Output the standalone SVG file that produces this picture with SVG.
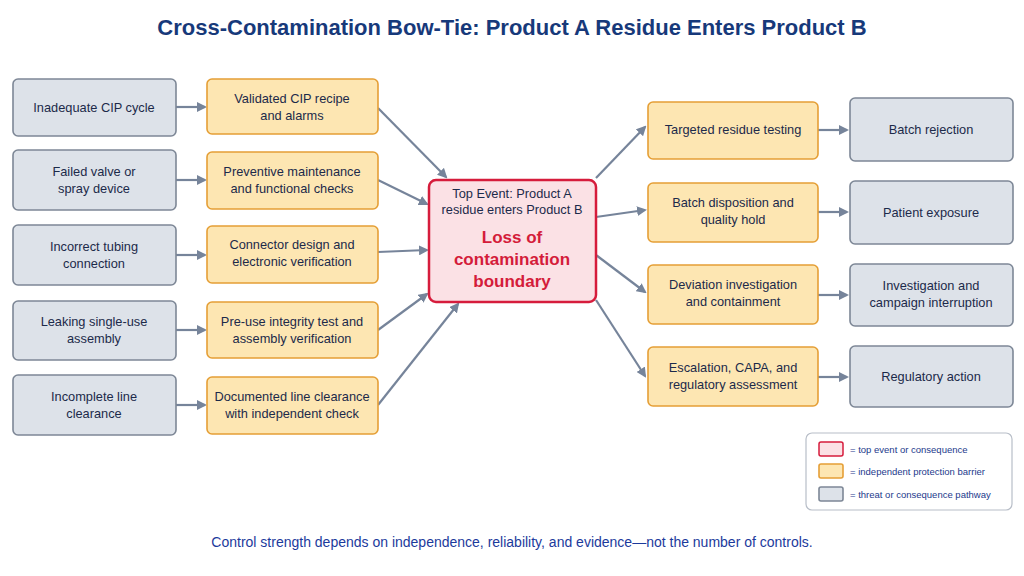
<svg xmlns="http://www.w3.org/2000/svg" width="1024" height="576" viewBox="0 0 1024 576">
<style>
text{font-family:"Liberation Sans",Arial,sans-serif;text-anchor:middle;fill:#1c2a4a}
.g{fill:#dde2e9;stroke:#7d8796;stroke-width:1.6}
.o{fill:#fde6b2;stroke:#e59f36;stroke-width:1.6}
.r{fill:#fbe1e5;stroke:#d61c3c;stroke-width:2.5}
.t{font-size:12.8px}
.c{stroke:#76849a;stroke-width:2.2;fill:none;marker-end:url(#a)}
.lg{font-size:9.5px;text-anchor:start;fill:#1c3a8c}
</style>
<defs><marker id="a" markerWidth="10" markerHeight="10" refX="8" refY="5" orient="auto" markerUnits="userSpaceOnUse"><path d="M0,0L10,5L0,10z" fill="#76849a"/></marker></defs>
<rect width="1024" height="576" fill="#fff"/>
<text x="512" y="35" style="font-size:22px;font-weight:bold;fill:#17397a">Cross-Contamination Bow-Tie: Product A Residue Enters Product B</text>
<g id="connectors">
<path class="c" d="M176,107H205"/><path class="c" d="M176,180H205"/><path class="c" d="M176,255H205"/><path class="c" d="M176,330H205"/><path class="c" d="M176,405H205"/>
<path class="c" d="M378,108L446,177"/><path class="c" d="M378,180L427,204"/><path class="c" d="M378,252L427,250"/><path class="c" d="M378,330L427,294"/><path class="c" d="M378,405L458,304"/>
<path class="c" d="M596,178L645,127"/><path class="c" d="M596,217L645,210"/><path class="c" d="M596,255L645,292"/><path class="c" d="M596,300L645,376"/>
<path class="c" d="M818,130H847"/><path class="c" d="M818,212H847"/><path class="c" d="M818,295H847"/><path class="c" d="M818,377H847"/>
</g>
<g id="t1"><rect class="g" x="13" y="79" width="163" height="57" rx="5"/><text class="t" x="94" y="112">Inadequate CIP cycle</text></g>
<g id="t2"><rect class="g" x="13" y="150" width="163" height="60" rx="5"/><text class="t" x="94" y="176">Failed valve or</text><text class="t" x="94" y="193">spray device</text></g>
<g id="t3"><rect class="g" x="13" y="225" width="163" height="60" rx="5"/><text class="t" x="94" y="251">Incorrect tubing</text><text class="t" x="94" y="268">connection</text></g>
<g id="t4"><rect class="g" x="13" y="301" width="163" height="59" rx="5"/><text class="t" x="94" y="326">Leaking single-use</text><text class="t" x="94" y="343">assembly</text></g>
<g id="t5"><rect class="g" x="13" y="375" width="163" height="60" rx="5"/><text class="t" x="94" y="401">Incomplete line</text><text class="t" x="94" y="418">clearance</text></g>
<g id="b1"><rect class="o" x="207" y="79" width="171" height="55" rx="5"/><text class="t" x="292" y="103">Validated CIP recipe</text><text class="t" x="292" y="120">and alarms</text></g>
<g id="b2"><rect class="o" x="207" y="152" width="171" height="57" rx="5"/><text class="t" x="292" y="176">Preventive maintenance</text><text class="t" x="292" y="193">and functional checks</text></g>
<g id="b3"><rect class="o" x="207" y="226" width="171" height="57" rx="5"/><text class="t" x="292" y="249">Connector design and</text><text class="t" x="292" y="266">electronic verification</text></g>
<g id="b4"><rect class="o" x="207" y="302" width="171" height="56" rx="5"/><text class="t" x="292" y="326">Pre-use integrity test and</text><text class="t" x="292" y="343">assembly verification</text></g>
<g id="b5"><rect class="o" x="207" y="377" width="171" height="57" rx="5"/><text class="t" x="292" y="401">Documented line clearance</text><text class="t" x="292" y="418">with independent check</text></g>
<g id="top"><rect class="r" x="429" y="180" width="167" height="122" rx="7"/><text class="t" x="512" y="198">Top Event: Product A</text><text class="t" x="512" y="214">residue enters Product B</text><text x="512" y="243" style="font-size:17px;font-weight:bold;fill:#d41c3a">Loss of</text><text x="512" y="265" style="font-size:17px;font-weight:bold;fill:#d41c3a">contamination</text><text x="512" y="287" style="font-size:17px;font-weight:bold;fill:#d41c3a">boundary</text></g>
<g id="rb1"><rect class="o" x="648" y="102" width="170" height="57" rx="5"/><text class="t" x="733" y="134">Targeted residue testing</text></g>
<g id="rb2"><rect class="o" x="648" y="183" width="170" height="59" rx="5"/><text class="t" x="733" y="207">Batch disposition and</text><text class="t" x="733" y="224">quality hold</text></g>
<g id="rb3"><rect class="o" x="648" y="265" width="170" height="59" rx="5"/><text class="t" x="733" y="289">Deviation investigation</text><text class="t" x="733" y="306">and containment</text></g>
<g id="rb4"><rect class="o" x="648" y="347" width="170" height="59" rx="5"/><text class="t" x="733" y="372">Escalation, CAPA, and</text><text class="t" x="733" y="389">regulatory assessment</text></g>
<g id="c1"><rect class="g" x="850" y="98" width="163" height="63" rx="5"/><text class="t" x="931" y="134">Batch rejection</text></g>
<g id="c2"><rect class="g" x="850" y="181" width="163" height="63" rx="5"/><text class="t" x="931" y="217">Patient exposure</text></g>
<g id="c3"><rect class="g" x="850" y="264" width="163" height="62" rx="5"/><text class="t" x="931" y="290">Investigation and</text><text class="t" x="931" y="307">campaign interruption</text></g>
<g id="c4"><rect class="g" x="850" y="346" width="163" height="61" rx="5"/><text class="t" x="931" y="381">Regulatory action</text></g>
<g id="legend"><rect x="806" y="433" width="206" height="77" rx="6" fill="#fff" stroke="#b8bec8" stroke-width="1.2"/>
<rect class="r" x="819" y="442" width="24" height="14" rx="2" style="stroke-width:1.5"/><text class="lg" x="850" y="453">= top event or consequence</text>
<rect class="o" x="819" y="464" width="24" height="14" rx="2"/><text class="lg" x="850" y="475">= independent protection barrier</text>
<rect class="g" x="819" y="487" width="24" height="14" rx="2"/><text class="lg" x="850" y="498">= threat or consequence pathway</text></g>
<text x="512" y="547" style="font-size:14px;fill:#1c3a9c">Control strength depends on independence, reliability, and evidence—not the number of controls.</text>
</svg>
